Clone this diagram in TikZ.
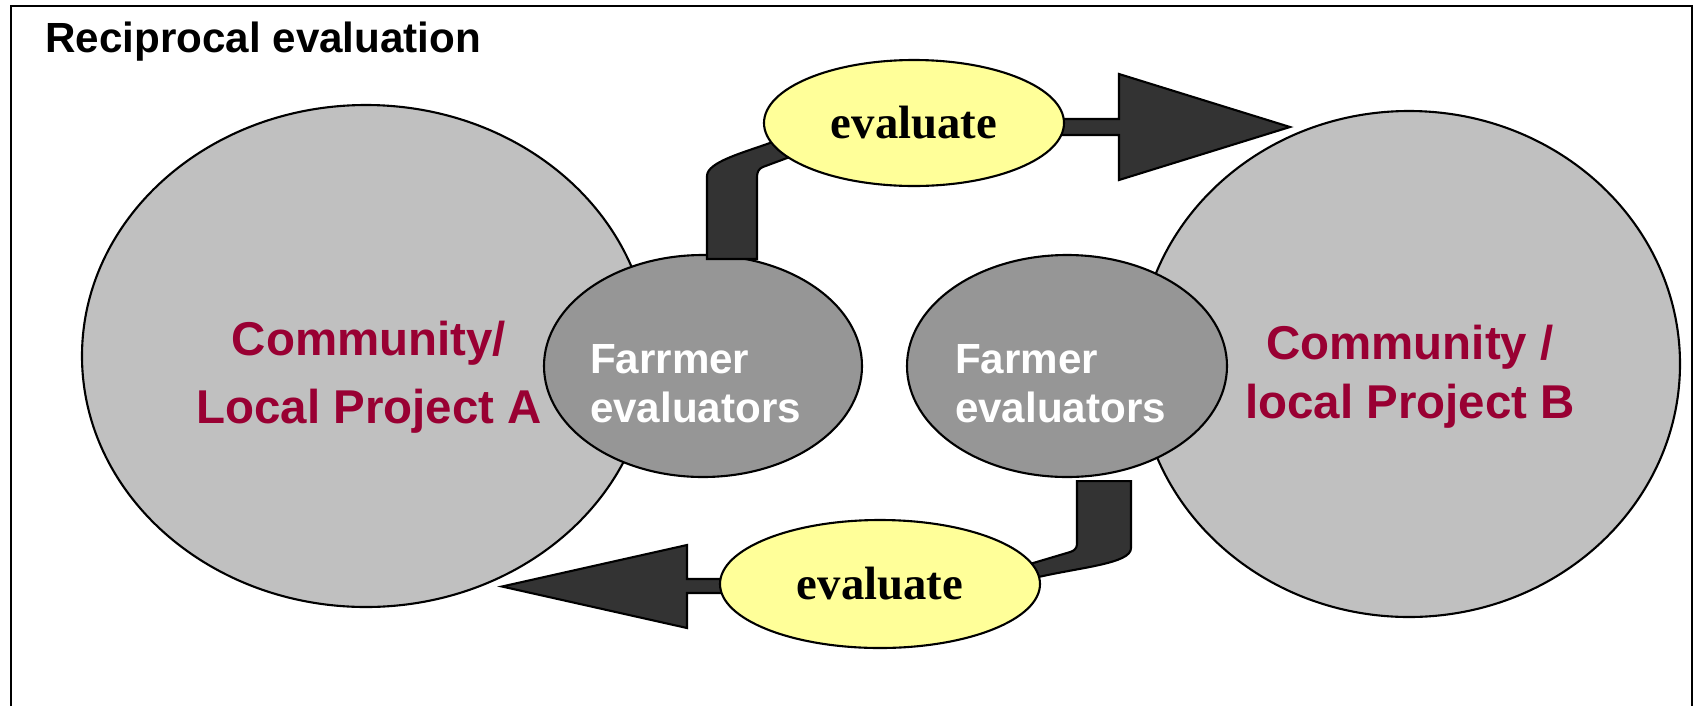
\documentclass[tikz,border=0pt]{standalone}
\usepackage{fontspec}
\setmainfont{Liberation Serif}
\setsansfont{Liberation Sans}
\usetikzlibrary{shapes.geometric}
\definecolor{commgray}{RGB}{192,192,192}
\definecolor{farmgray}{RGB}{150,150,150}
\definecolor{projred}{RGB}{153,0,51}
\definecolor{evalyellow}{RGB}{255,255,153}
\definecolor{arrowdark}{RGB}{51,51,51}

\begin{document}
\begin{tikzpicture}[
    community/.style={ellipse,draw=black,line width=0.6pt,fill=commgray,inner sep=0pt},
    farmer/.style={ellipse,draw=black,line width=0.6pt,fill=farmgray,inner sep=0pt,minimum height=2.22cm},
    evalnode/.style={ellipse,draw=black,line width=0.6pt,fill=evalyellow,inner sep=0pt,font=\fontsize{13.3}{16}\selectfont\bfseries},
    commtext/.style={text=projred,align=center,inner sep=0pt},
    farmtext/.style={text=white,align=left,inner sep=0pt,font=\sffamily\bfseries\fontsize{12}{13.9}\selectfont},
    blockarrow/.style={draw=black,line width=0.6pt,fill=arrowdark}]
  \useasboundingbox (0,0) rectangle (16.94,7.06);
  \fill[white] (0,0) rectangle (16.94,7.06);
  \draw[line width=0.8pt] (0.11,0) -- (0.11,7.0) -- (16.92,7.0) -- (16.92,0);
  \node[anchor=base west,inner sep=0pt,font=\sffamily\bfseries\fontsize{12}{14}\selectfont] (title) at (0.446,6.54) {Reciprocal evaluation};

  \node[community,minimum width=5.68cm,minimum height=5.02cm] (commA) at (3.66,3.50) {};
  \node[community,minimum width=5.42cm,minimum height=5.06cm] (commB) at (14.09,3.42) {};
  \node[commtext,font=\sffamily\bfseries\fontsize{13.5}{19.3}\selectfont] (textA) at ([shift={(0.03,-0.21)}]commA.center) {Community/\\Local Project A};
  \node[commtext,font=\sffamily\bfseries\fontsize{13.5}{16.8}\selectfont] (textB) at ([shift={(0.01,-0.13)}]commB.center) {Community /\\local Project B};

  \node[farmer,minimum width=3.18cm] (farmerA) at (7.03,3.40) {};
  \node[farmer,minimum width=3.20cm] (farmerB) at (10.67,3.40) {};
  \node[farmtext] (textFA) at ([shift={(-0.075,-0.18)}]farmerA.center) {Farrmer\\evaluators};
  \node[farmtext] (textFB) at ([shift={(-0.065,-0.18)}]farmerB.center) {Farmer\\evaluators};

  \coordinate (evalTopPos) at (9.14,5.83);
  \coordinate (evalBotPos) at (8.80,1.22);
  \coordinate (tipB) at (12.90,5.79);
  \coordinate (tipA) at (5.02,1.195);

  \draw[blockarrow] ([xshift=0.04cm,yshift=-0.05cm]farmerA.north) -- ++(0,0.83)
        to[out=90,in=200,out looseness=0.5] ++(0.63,0.33) -- ++(0.40,0.15) -- ++(0.05,-0.20) -- ++(-0.25,-0.09)
        -- ++(-0.27,-0.10) to[out=200,in=90] ++(-0.06,-0.10) -- ++(0,-0.82) -- cycle;
  \draw[blockarrow] ([xshift=0.10cm,yshift=-0.03cm]farmerB.south) -- ++(0,-0.63)
        to[out=-90,in=15] ++(-0.07,-0.08) -- ++(-0.37,-0.11) -- ++(-0.38,-0.11) -- ++(0,-0.11)
        -- ++(0.41,0.075) to[out=13,in=-90,out looseness=1.2,in looseness=0.4] ++(0.95,0.295) -- ++(0,0.67) -- cycle;

  \draw[blockarrow] (evalTopPos) ++(0,0.04) -- ++(2.05,0) -- ++(0,0.45) -- (tipB)
        -- ++(-1.71,-0.53) -- ++(0,0.45) -- ++(-2.05,0) -- cycle;
  \draw[blockarrow] (evalBotPos) ++(0,0.05) -- ++(-1.93,0) -- ++(0,0.34) -- (tipA)
        -- ++(1.85,-0.415) -- ++(0,0.35) -- ++(1.93,0) -- cycle;

  \node[evalnode,minimum width=3.00cm,minimum height=1.26cm] (evalTop) at (evalTopPos) {evaluate};
  \node[evalnode,minimum width=3.20cm,minimum height=1.28cm] (evalBot) at (evalBotPos) {evaluate};
\end{tikzpicture}
\end{document}
